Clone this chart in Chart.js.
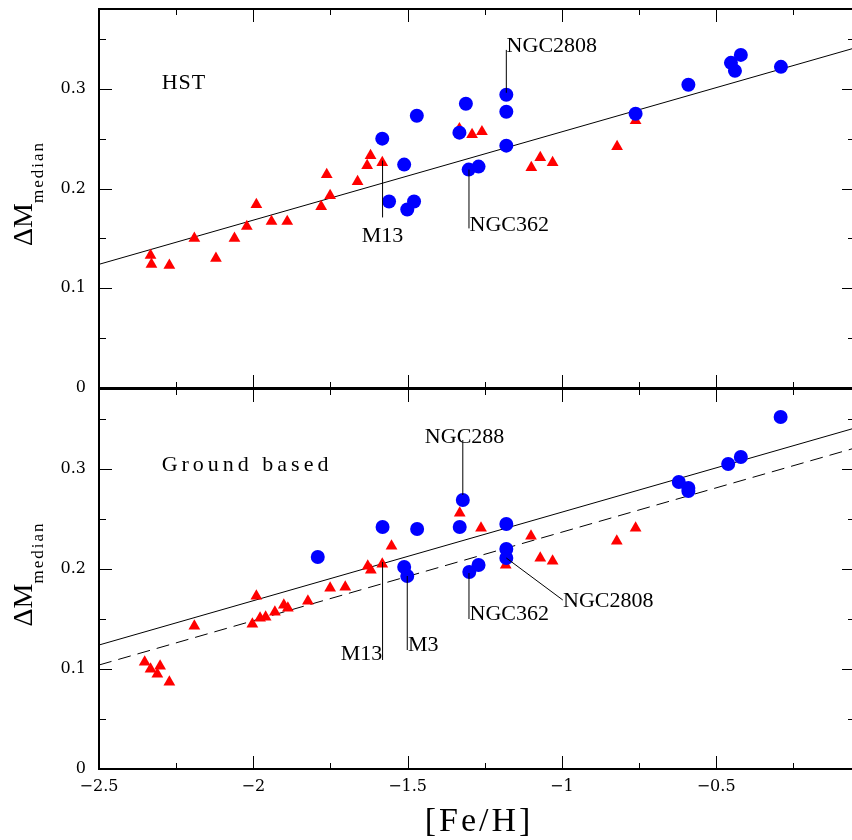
<!DOCTYPE html>
<html>
<head>
<meta charset="utf-8">
<script src="https://cdn.jsdelivr.net/npm/chart.js@4/dist/chart.umd.min.js"></script>
<style>
    html, body { margin: 0; padding: 0; background: #fff; overflow: hidden; }
    #painel-hst { position: absolute; left: 0; top: 0; }
    #painel-solo { position: absolute; left: 0; top: 380px; }
</style>
</head>
<body>
<canvas id="painel-hst" width="862" height="395"></canvas>
<canvas id="painel-solo" width="862" height="460"></canvas>
<script>
// [Fe/H] e ΔM_median
const hstTriFeH = [-2.333, -2.330, -2.272, -2.191, -2.121, -2.061, -2.021, -1.990, -1.941, -1.890,
    -1.780, -1.751, -1.762, -1.662, -1.631, -1.620, -1.582, -1.332, -1.291, -1.259,
    -1.099, -1.070, -1.030, -0.821, -0.761];
const hstTriDm = [0.133, 0.124, 0.123, 0.150, 0.130, 0.150, 0.162, 0.184, 0.167, 0.167,
    0.182, 0.193, 0.214, 0.207, 0.223, 0.233, 0.226, 0.260, 0.254, 0.257,
    0.221, 0.231, 0.226, 0.242, 0.268];

const hstCircFeH = [-1.582, -1.470, -1.511, -1.560, -1.501, -1.479, -1.311, -1.332, -1.302, -1.270,
    -1.180, -1.180, -1.180, -0.761, -0.590, -0.452, -0.439, -0.420, -0.290];
const hstCircDm = [0.250, 0.273, 0.224, 0.187, 0.179, 0.187, 0.285, 0.256, 0.219, 0.222,
    0.294, 0.277, 0.243, 0.275, 0.304, 0.326, 0.318, 0.334, 0.322];

const soloTriFeH = [-2.352, -2.333, -2.302, -2.311, -2.272, -2.191, -1.990, -2.003, -1.978, -1.960,
    -1.930, -1.901, -1.888, -1.823, -1.751, -1.702, -1.629, -1.619, -1.582, -1.552,
    -1.331, -1.262, -1.182, -1.100, -1.070, -1.030, -0.822, -0.761];
const soloTriDm = [0.107, 0.100, 0.103, 0.095, 0.087, 0.143, 0.173, 0.145, 0.151, 0.152,
    0.157, 0.164, 0.161, 0.168, 0.181, 0.182, 0.203, 0.199, 0.205, 0.223,
    0.256, 0.241, 0.204, 0.233, 0.211, 0.208, 0.228, 0.241];

const soloCircFeH = [-1.791, -1.581, -1.469, -1.511, -1.501, -1.321, -1.331, -1.300, -1.270,
    -1.180, -1.180, -1.180, -0.621, -0.590, -0.590, -0.461, -0.420, -0.291];
const soloCircDm = [0.212, 0.242, 0.240, 0.202, 0.193, 0.269, 0.242, 0.197, 0.204,
    0.245, 0.220, 0.211, 0.287, 0.281, 0.278, 0.305, 0.312, 0.352];

// retas de ajuste
const ajusteFeH = [-2.5, -0.05];
const ajusteHst = [0.124, 0.341];
const ajusteSolo = [0.104, 0.321];

// eixos
const xMin = -2.5, xMax = -0.05;
const yMin = 0, yMax = 0.38;
const xMarcas = [-2.5, -2, -1.5, -1, -0.5];
const xMarcasMenores = [-2.25, -1.75, -1.25, -0.75, -0.25];
const yMarcas = [0, 0.1, 0.2, 0.3];
const yMarcasMenores = [0.05, 0.15, 0.25, 0.35];

// rótulos dos aglomerados: posição do texto e traço até o ponto
const rotulosHst = [
    { texto: 'HST', x: -2.297, y: 0.300, alinhar: 'left', esp: 1 },
    { texto: 'NGC2808', x: -1.179, y: 0.337, alinhar: 'left', guia: [-1.180, 0.339, -1.180, 0.296] },
    { texto: 'NGC362', x: -1.299, y: 0.157, alinhar: 'left', guia: [-1.301, 0.219, -1.301, 0.160] },
    { texto: 'M13', x: -1.581, y: 0.146, alinhar: 'center', guia: [-1.581, 0.228, -1.581, 0.171] },
];
const rotulosSolo = [
    { texto: 'Ground based', x: -2.297, y: 0.298, alinhar: 'left', esp: 4 },
    { texto: 'NGC288', x: -1.444, y: 0.326, alinhar: 'left', guia: [-1.321, 0.329, -1.321, 0.274] },
    { texto: 'M13', x: -1.582, y: 0.109, alinhar: 'right', guia: [-1.581, 0.207, -1.581, 0.109] },
    { texto: 'M3', x: -1.499, y: 0.118, alinhar: 'left', guia: [-1.501, 0.193, -1.501, 0.119] },
    { texto: 'NGC362', x: -1.299, y: 0.149, alinhar: 'left', guia: [-1.301, 0.196, -1.301, 0.150] },
    { texto: 'NGC2808', x: -0.996, y: 0.162, alinhar: 'left', guia: [-1.180, 0.211, -0.997, 0.169] },
];

const FONTE_TEXTO = '"Liberation Serif", serif';
const FONTE_MARCAS = '"DejaVu Serif", serif';

function pares(xs, ys) {
    return xs.map((x, i) => ({ x, y: ys[i] }));
}

const moldura = {
    id: 'moldura',
    afterDatasetsDraw(chart) {
        const { ctx, chartArea: a, scales: { x, y } } = chart;
        ctx.save();
        ctx.strokeStyle = '#000';
        ctx.lineWidth = 1;
        ctx.beginPath();
        const marcaX = (vals, len) => vals.forEach((v) => {
            const px = Math.round(x.getPixelForValue(v)) + 0.5;
            ctx.moveTo(px, a.bottom); ctx.lineTo(px, a.bottom - len);
            ctx.moveTo(px, a.top); ctx.lineTo(px, a.top + len);
        });
        const marcaY = (vals, len) => vals.forEach((v) => {
            const py = Math.round(y.getPixelForValue(v)) + 0.5;
            ctx.moveTo(a.left, py); ctx.lineTo(a.left + len, py);
            ctx.moveTo(a.right, py); ctx.lineTo(a.right - len, py);
        });
        marcaX(xMarcas, 13);
        marcaX(xMarcasMenores, 6);
        marcaY(yMarcas, 13);
        marcaY(yMarcasMenores, 7);
        ctx.stroke();
        ctx.lineWidth = 2;
        ctx.strokeRect(a.left, a.top, a.right - a.left, a.bottom - a.top);
        ctx.restore();
    },
};

const rotulos = {
    id: 'rotulos',
    afterDatasetsDraw(chart, args, opts) {
        const { ctx, scales: { x, y } } = chart;
        ctx.save();
        ctx.fillStyle = '#000';
        ctx.strokeStyle = '#000';
        ctx.lineWidth = 1;
        for (const r of opts.lista) {
            if (r.guia) {
                const [x1, y1, x2, y2] = r.guia;
                ctx.beginPath();
                ctx.moveTo(x.getPixelForValue(x1), y.getPixelForValue(y1));
                ctx.lineTo(x.getPixelForValue(x2), y.getPixelForValue(y2));
                ctx.stroke();
            }
            ctx.font = `22px ${FONTE_TEXTO}`;
            ctx.letterSpacing = `${r.esp || 0}px`;
            ctx.textAlign = r.alinhar;
            ctx.textBaseline = 'alphabetic';
            ctx.fillText(r.texto, x.getPixelForValue(r.x), y.getPixelForValue(r.y));
        }

        // título do eixo y: ΔM com índice "median"
        const a = chart.chartArea;
        const cy = (a.top + a.bottom) / 2 - 5;
        ctx.translate(32, cy);
        ctx.rotate(-Math.PI / 2);
        ctx.textAlign = 'left';
        ctx.letterSpacing = '0px';
        ctx.font = `28px ${FONTE_TEXTO}`;
        const wPrincipal = ctx.measureText('ΔM').width;
        ctx.font = `17px ${FONTE_TEXTO}`;
        ctx.letterSpacing = '2px';
        const wIndice = ctx.measureText('median').width;
        const x0 = -(wPrincipal + wIndice) / 2;
        ctx.fillText('median', x0 + wPrincipal, 11);
        ctx.letterSpacing = '0px';
        ctx.font = `28px ${FONTE_TEXTO}`;
        ctx.fillText('ΔM', x0, 0);
        ctx.restore();

        if (opts.tituloX) {
            ctx.save();
            ctx.fillStyle = '#000';
            ctx.font = `34px ${FONTE_TEXTO}`;
            ctx.letterSpacing = '3px';
            ctx.textAlign = 'center';
            ctx.fillText('[Fe/H]', 479, chart.height - 9);
            ctx.restore();
        }
    },
};

function montarPainel(canvas, tri, circ, retas, lista, comEixoX) {
    const datasets = [
        {
            data: circ,
            pointStyle: 'circle',
            pointRadius: 7,
            backgroundColor: '#0000ff',
            borderWidth: 0,
        },
        {
            data: tri,
            pointStyle: 'triangle',
            pointRadius: 6.8,
            backgroundColor: '#ff0000',
            borderWidth: 0,
        },
    ];
    retas.forEach((r) => {
        datasets.push({
            data: r.pontos,
            showLine: true,
            pointRadius: 0,
            borderColor: '#000',
            borderWidth: 1,
            borderDash: r.tracejado ? [13, 7] : [],
        });
    });

    return new Chart(canvas, {
        type: 'scatter',
        data: { datasets },
        options: {
            responsive: false,
            animation: false,
            events: [],
            layout: { padding: { top: 9, right: 2, bottom: comEixoX ? 0 : 1, left: 0 } },
            plugins: {
                legend: { display: false },
                tooltip: { enabled: false },
                rotulos: { lista, tituloX: comEixoX },
            },
            scales: {
                x: {
                    type: 'linear',
                    min: xMin,
                    max: xMax,
                    grid: { display: false, drawTicks: false },
                    border: { display: false },
                    afterBuildTicks: (s) => { s.ticks = xMarcas.map((v) => ({ value: v })); },
                    afterFit: (s) => {
                        s.height = comEixoX ? 71 : 0;
                        s.paddingLeft = 0;
                        s.paddingRight = 0;
                        s.paddingTop = 0;
                        s.paddingBottom = 0;
                    },
                    ticks: {
                        display: comEixoX,
                        autoSkip: false,
                        maxRotation: 0,
                        padding: 8,
                        color: '#000',
                        font: { family: FONTE_MARCAS, size: 16 },
                        callback: (v) => (v < 0 ? '\u2212' : '') + Math.abs(Math.round(v * 10) / 10),
                    },
                },
                y: {
                    type: 'linear',
                    min: yMin,
                    max: yMax,
                    grid: { display: false, drawTicks: false },
                    border: { display: false },
                    afterBuildTicks: (s) => { s.ticks = yMarcas.map((v) => ({ value: v })); },
                    afterFit: (s) => {
                        s.width = 99;
                        s.paddingTop = 0;
                        s.paddingBottom = 0;
                    },
                    ticks: {
                        autoSkip: false,
                        padding: 13,
                        color: '#000',
                        font: { family: FONTE_MARCAS, size: 16 },
                        callback: (v) => (v === 0 ? '0' : v.toFixed(1)),
                    },
                },
            },
        },
        plugins: [moldura, rotulos],
    });
}

montarPainel(
    document.getElementById('painel-hst'),
    pares(hstTriFeH, hstTriDm),
    pares(hstCircFeH, hstCircDm),
    [{ pontos: pares(ajusteFeH, ajusteHst), tracejado: false }],
    rotulosHst,
    false,
);

montarPainel(
    document.getElementById('painel-solo'),
    pares(soloTriFeH, soloTriDm),
    pares(soloCircFeH, soloCircDm),
    [
        { pontos: pares(ajusteFeH, ajusteHst), tracejado: false },
        { pontos: pares(ajusteFeH, ajusteSolo), tracejado: true },
    ],
    rotulosSolo,
    true,
);
</script>
</body>
</html>
